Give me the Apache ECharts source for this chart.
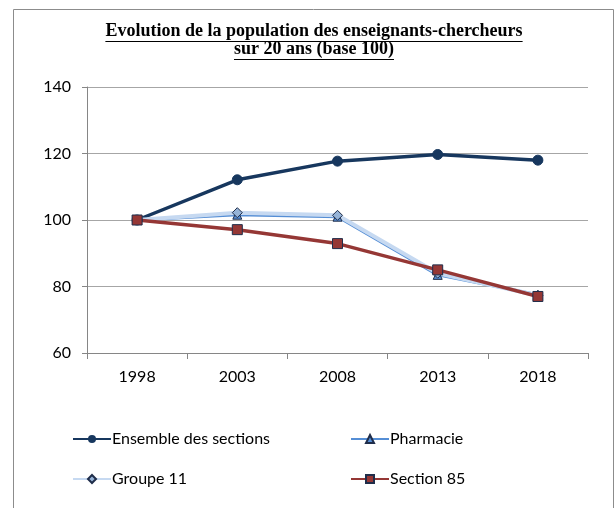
<!DOCTYPE html>
<html>
<head>
<meta charset="utf-8">
<script src="https://cdn.jsdelivr.net/npm/echarts@6/dist/echarts.min.js"></script>
<style>
  html, body { margin: 0; padding: 0; background: #fff; }
  #main { width: 616px; height: 508px; }
</style>
</head>
<body>
<div id="main"></div>
<script>
var years = ['1998', '2003', '2008', '2013', '2018'];
var ensemble = [100, 112.1, 117.7, 119.7, 118];
var pharmacie = [100, 101.6, 101, 83.5, 77.5];
var groupe11 = [100, 102.2, 101.4, 84, 77.3];
var section85 = [100, 97.1, 92.9, 85, 77];
var yTicks = [60, 80, 100, 120, 140];
var titleLines = ['Evolution de la population des enseignants-chercheurs', 'sur 20 ans (base 100)'];

var chart = echarts.init(document.getElementById('main'));
var font = 'Lato, "Open Sans", sans-serif';
var titleFont = 'bold 18px "Liberation Serif", "Times New Roman", serif';

// titre souligné (texte + trait mesuré)
var ctx = document.createElement('canvas').getContext('2d');
ctx.font = titleFont;
var titleParts = [];
titleLines.forEach(function (t, i) {
    var w = ctx.measureText(t).width;
    var base = 40 + i * 18;
    titleParts.push({ type: 'text', style: { text: t, x: 314, y: base, font: titleFont,
        fill: '#000', align: 'center', verticalAlign: 'bottom' } });
    titleParts.push({ type: 'line', shape: { x1: 314 - w / 2, y1: base + 1.5, x2: 314 + w / 2, y2: base + 1.5 },
        style: { stroke: '#000', lineWidth: 1 } });
});

var option = {
    animation: false,
    graphic: [
        { type: 'rect', shape: { x: 13.5, y: 9.5, width: 600, height: 510 },
          style: { fill: 'none', stroke: '#8c8c8c', lineWidth: 1 } }
    ].concat(titleParts),
    legend: [
        {
            data: ['Ensemble des sections', 'Groupe 11'],
            orient: 'vertical',
            left: 67, top: 426,
            itemWidth: 38, itemHeight: 10, itemGap: 24,
            textStyle: { fontFamily: font, fontSize: 16, color: '#000', padding: [0, 0, 0, -4] }
        },
        {
            data: ['Pharmacie', 'Section 85'],
            orient: 'vertical',
            left: 345, top: 426,
            itemWidth: 38, itemHeight: 10, itemGap: 24,
            textStyle: { fontFamily: font, fontSize: 16, color: '#000', padding: [0, 0, 0, -4] }
        }
    ],
    grid: { left: 87, right: 28, top: 87, bottom: 155 },
    xAxis: {
        type: 'category',
        data: years,
        boundaryGap: true,
        axisLine: { lineStyle: { color: '#868686' } },
        axisTick: { show: true, length: 6, lineStyle: { color: '#868686' } },
        axisLabel: { fontFamily: font, fontSize: 16, color: '#000', margin: 16 }
    },
    yAxis: {
        type: 'value',
        min: yTicks[0], max: yTicks[yTicks.length - 1], interval: 20,
        axisLine: { show: true, lineStyle: { color: '#868686' } },
        axisTick: { show: true, length: 5, lineStyle: { color: '#868686' } },
        splitLine: { lineStyle: { color: '#a6a6a6', width: 1 } },
        axisLabel: { fontFamily: font, fontSize: 16, color: '#000', margin: 16 }
    },
    series: [
        {
            name: 'Ensemble des sections',
            type: 'line',
            data: ensemble,
            symbol: 'circle', symbolSize: 10,
            lineStyle: { color: '#17375e', width: 3.5 },
            itemStyle: { color: '#17375e', borderColor: '#17375e' }
        },
        {
            name: 'Pharmacie',
            type: 'line',
            data: pharmacie,
            symbol: 'triangle', symbolSize: 9,
            lineStyle: { color: '#558ed5', width: 3 },
            itemStyle: { color: '#558ed5', borderColor: '#1f2d4a', borderWidth: 1 }
        },
        {
            name: 'Groupe 11',
            type: 'line',
            data: groupe11,
            symbol: 'diamond', symbolSize: 10,
            lineStyle: { color: '#c6d9f1', width: 4 },
            itemStyle: { color: '#95b3d7', borderColor: '#1f2d4a', borderWidth: 1 }
        },
        {
            name: 'Section 85',
            type: 'line',
            data: section85,
            symbol: 'rect', symbolSize: 10,
            lineStyle: { color: '#953735', width: 3.5 },
            itemStyle: { color: '#953735', borderColor: '#1f2d4a', borderWidth: 1 }
        }
    ]
};
chart.setOption(option);
</script>
</body>
</html>
